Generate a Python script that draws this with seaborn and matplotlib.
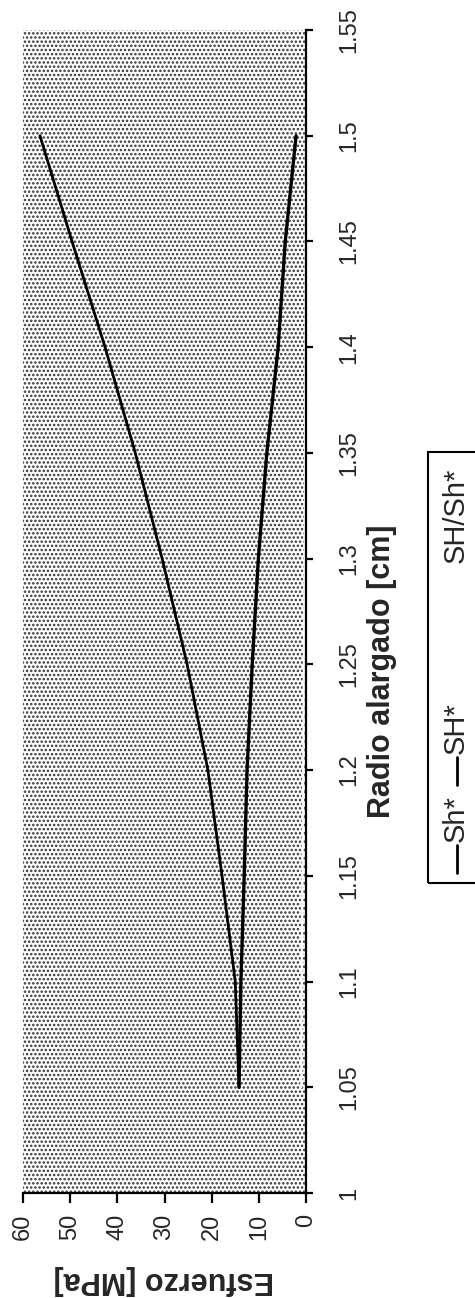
import seaborn as sns
import matplotlib.pyplot as plt
import pandas as pd
from matplotlib.patches import Rectangle
from matplotlib.lines import Line2D

radio = [1.05, 1.10, 1.15, 1.20, 1.25, 1.30, 1.35, 1.40, 1.45, 1.50]
sh_min = [14.2, 15.0, 17.8, 20.8, 25.2, 30.5, 36.2, 42.6, 49.6, 56.4]   # Sh*
sh_max = [14.2, 13.8, 13.1, 12.5, 11.4, 10.1, 8.3, 5.9, 4.4, 2.1]      # SH*
ratio = [1.0, 0.92, 0.74, 0.60, 0.45, 0.33, 0.23, 0.14, 0.09, 0.04]    # SH/Sh*

esf_ticks = [0, 10, 20, 30, 40, 50, 60]
radio_ticks = [1, 1.05, 1.1, 1.15, 1.2, 1.25, 1.3, 1.35, 1.4, 1.45, 1.5, 1.55]
radio_labels = ['1', '1.05', '1.1', '1.15', '1.2', '1.25', '1.3', '1.35',
                '1.4', '1.45', '1.5', '1.55']
series_names = ['Sh*', 'SH*', 'SH/Sh*']

df = pd.DataFrame({'radio': radio, 'Sh*': sh_min, 'SH*': sh_max, 'SH/Sh*': ratio})

sns.set_style('white')
plt.rcParams['font.family'] = ['Liberation Sans', 'DejaVu Sans']
plt.rcParams['hatch.linewidth'] = 1.2

fig = plt.figure(figsize=(4.75, 12.98), dpi=100)
W, H = 475, 1298
ax = fig.add_axes([23 / W, 1 - 1193 / H, (306 - 23) / W, (1193 - 30) / H])

# stippled plot area
ax.patch.set_facecolor('white')
ax.patch.set_hatch('....')
ax.patch.set_edgecolor('#333333')

# chart is drawn rotated: stress runs right-to-left, radius bottom-to-top
sns.lineplot(data=df, x='Sh*', y='radio', orient='y', color='black', lw=2, ax=ax)
sns.lineplot(data=df, x='SH*', y='radio', orient='y', color='black', lw=2.4, ax=ax)
sns.lineplot(data=df, x='SH/Sh*', y='radio', orient='y', color='white', lw=1.5, ax=ax)

ax.set_xlim(60, 0)
ax.set_ylim(1, 1.55)

for s in ['top', 'left']:
    ax.spines[s].set_visible(False)
for s in ['right', 'bottom']:
    ax.spines[s].set_color('black')
    ax.spines[s].set_linewidth(1.6)

ax.set_xticks(esf_ticks)
ax.set_xticklabels([str(t) for t in esf_ticks], rotation=90, fontsize=17)
ax.yaxis.tick_right()
ax.set_yticks(radio_ticks)
ax.set_yticklabels(radio_labels, rotation=90, fontsize=17, va='center')
ax.tick_params(axis='x', direction='out', length=7, width=1.6, pad=8,
               bottom=True, color='black')
ax.tick_params(axis='y', direction='out', length=5, width=1.6, pad=18,
               right=True, left=False, color='black')

ax.set_xlabel('Esfuerzo [MPa]', rotation=180, fontsize=22, fontweight='bold')
ax.xaxis.set_label_coords((164 - 23) / 283, (1193 - 1280) / 1163)
ax.xaxis.label.set_va('center')
ax.yaxis.set_label_position('right')
ax.set_ylabel('Radio alargado [cm]', rotation=90, fontsize=22, fontweight='bold')
ax.yaxis.set_label_coords((382 - 23) / 283, (1193 - 671) / 1163)
ax.yaxis.label.set_va('center')

# legend, drawn by hand because it is rotated too
fig.add_artist(Rectangle((428 / W, 1 - 883 / H), 0.2, (883 - 452) / H,
                         transform=fig.transFigure, fill=False,
                         edgecolor='black', lw=1.5, clip_on=False))
entries = [(873, 845, 842, 'black'), (785, 757, 754, 'black'), (600, 572, 563, 'white')]
for name, (l0, l1, t0, c) in zip(series_names, entries):
    fig.add_artist(Line2D([457 / W, 457 / W], [1 - l0 / H, 1 - l1 / H],
                          transform=fig.transFigure, color=c, lw=2))
    fig.text(456 / W, 1 - t0 / H, name, rotation=90, fontsize=21,
             ha='center', va='bottom')

fig.savefig('out.png', dpi=100)
